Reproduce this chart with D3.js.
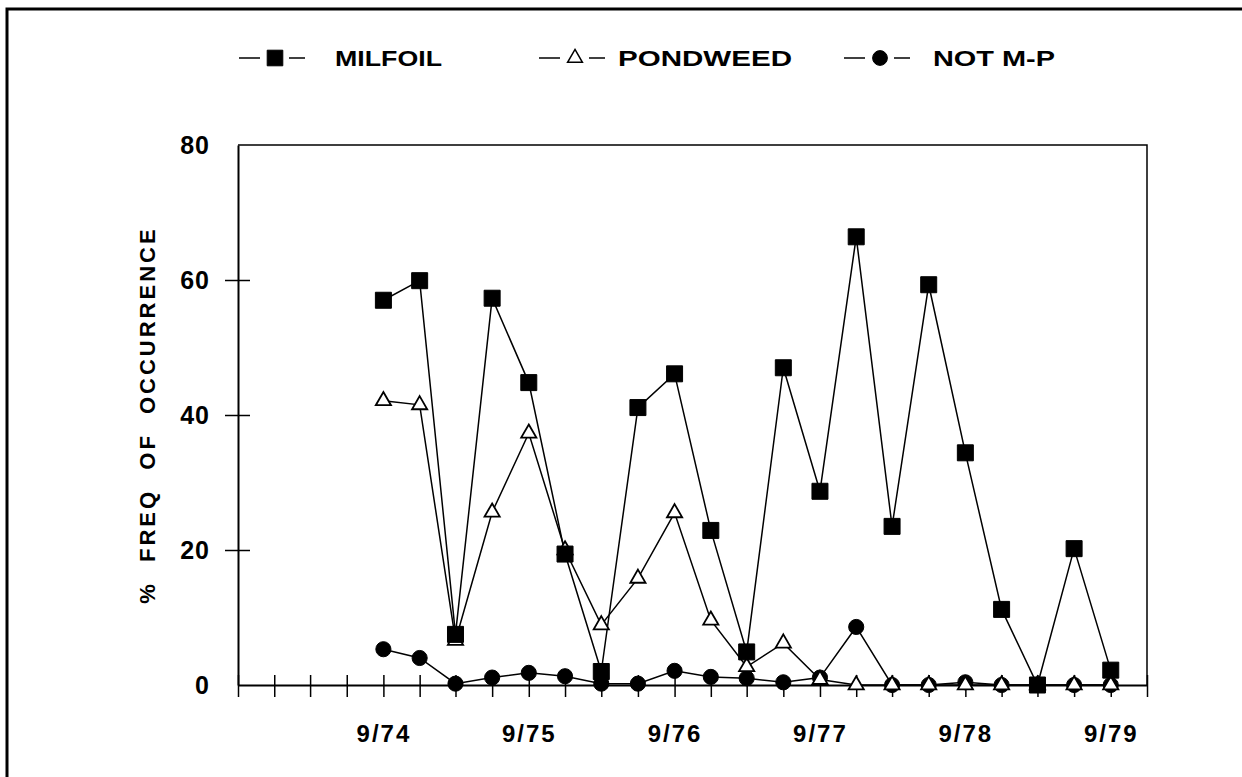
<!DOCTYPE html>
<html>
<head>
<meta charset="utf-8">
<script src="https://cdn.jsdelivr.net/npm/d3@7"></script>
<style>
  body { margin: 0; background: #fff; }
  text { font-family: Arial, "Liberation Sans", Helvetica, sans-serif; font-weight: bold; fill: #000; }
</style>
</head>
<body>
<div id="chart"></div>
<script>
// sampling dates (quarterly)
var quarters = ["1974-09","1974-12","1975-03","1975-06","1975-09","1975-12","1976-03",
                "1976-06","1976-09","1976-12","1977-03","1977-06","1977-09","1977-12",
                "1978-03","1978-06","1978-09","1978-12","1979-03","1979-06","1979-09"]

// % freq of occurrence
var milfoil  = [57.0, 59.9, 7.5, 57.3, 44.8, 19.4, 2.0, 41.1, 46.1, 22.9, 4.9,
                47.0, 28.7, 66.4, 23.5, 59.3, 34.4, 11.2, 0, 20.2, 2.2]
var pondweed = [42.1, 41.5, 6.6, 25.6, 37.3, 20.0, 8.9, 15.8, 25.5, 9.6, 2.7,
                6.2, 0.8, 0, 0, 0, 0, 0, 0, 0, 0]
var notMP    = [5.3, 4.0, 0.2, 1.1, 1.8, 1.3, 0.2, 0.2, 2.1, 1.2, 1.0,
                0.4, 1.1, 8.6, 0, 0, 0.4, 0, 0, 0, 0]

var seriesNames = ["MILFOIL", "PONDWEED", "NOT M-P"]
var yTicks = [0, 20, 40, 60, 80]
var yTitle = "% FREQ OF OCCURRENCE"

var parseMonth = d3.timeParse("%Y-%m")

var W = 1242, H = 777
var margin = {top: 145, right: 95, bottom: 92, left: 238},
    width = W - margin.left - margin.right,
    height = H - margin.top - margin.bottom

var svg = d3.select("#chart").append("svg")
    .attr("width", W)
    .attr("height", H)

// outer frame (only top and left edges show in the scan)
svg.append("path")
  .attr("d", "M7,777 L7,9 L1242,9")
  .attr("fill", "none")
  .attr("stroke", "#000")
  .attr("stroke-width", 3)

var g = svg.append("g")
  .attr("transform", "translate(" + margin.left + "," + margin.top + ")")

var x = d3.scaleTime()
  .domain([parseMonth("1973-09"), parseMonth("1979-12")])
  .range([0, width])
var y = d3.scaleLinear().domain([0, 80]).range([height, 0])

var xTickVals = d3.timeMonth.range(parseMonth("1973-09"), d3.timeMonth.offset(parseMonth("1979-12"), 1), 3)
var fmt = d3.timeFormat("%-m/%y")

// frame of plot: top + right
g.append("path")
  .attr("d", "M0,0 L" + width + ",0 L" + width + "," + height)
  .attr("fill", "none")
  .attr("stroke", "#000")
  .attr("stroke-width", 1.5)

var xAxis = g.append("g")
  .attr("transform", "translate(0," + height + ")")
  .call(d3.axisBottom(x)
    .tickValues(xTickVals)
    .tickSizeOuter(0)
    .tickSizeInner(12)
    .tickPadding(28)
    .tickFormat(function(d) {
      return (d.getMonth() == 8 && d.getFullYear() >= 1974) ? fmt(d) : ""
    }))
xAxis.selectAll(".tick line").attr("y1", -10).attr("stroke-width", 1.5)
xAxis.select(".domain").attr("stroke-width", 2)
xAxis.selectAll("text")
  .style("font-size", "24px")
  .style("letter-spacing", "2px")
  .attr("fill", "#000")

var yAxis = g.append("g")
  .call(d3.axisLeft(y)
    .tickValues(yTicks)
    .tickSizeOuter(0)
    .tickSizeInner(12)
    .tickPadding(16))
yAxis.selectAll(".tick line")
  .attr("x2", function(d) { return (d == 0 || d == 80) ? 0 : 12 })
  .attr("x1", function(d) { return (d == 0 || d == 80) ? 0 : -13 })
  .attr("stroke-width", 1.5)
yAxis.select(".domain").attr("stroke-width", 2)
yAxis.selectAll("text")
  .style("font-size", "25px")
  .style("letter-spacing", "1px")
  .attr("fill", "#000")

g.append("text")
  .attr("transform", "rotate(-90)")
  .attr("x", -height / 2)
  .attr("y", -83)
  .style("letter-spacing", "3px")
  .style("word-spacing", "10px")
  .style("text-anchor", "middle")
  .style("font-size", "22px")
  .text(yTitle)

// build series
var dates = quarters.map(parseMonth)
var allSeries = [milfoil, pondweed, notMP].map(function(vals, i) {
  return {
    name: seriesNames[i],
    points: vals.map(function(v, j) { return {date: dates[j], value: v} })
  }
})
var symbolTypes = [d3.symbolSquare, d3.symbolTriangle, d3.symbolCircle]
var symbolSizes = [256, 100, 180]
var symbolFill = ["#000", "#fff", "#000"]

var line = d3.line()
  .x(function(d) { return x(d.date) })
  .y(function(d) { return y(d.value) })

g.selectAll(".series-line")
  .data(allSeries)
  .enter().append("path")
  .attr("class", "series-line")
  .attr("d", function(d) { return line(d.points) })
  .attr("fill", "none")
  .attr("stroke", "#000")
  .attr("stroke-width", 1.5)

// markers: circles first, squares on top
;[2, 1, 0].forEach(function(i) {
  g.selectAll(".m" + i)
    .data(allSeries[i].points)
    .enter().append("path")
    .attr("class", "m" + i)
    .attr("transform", function(d) { return "translate(" + x(d.date) + "," + y(d.value) + ")" })
    .attr("d", d3.symbol().type(symbolTypes[i]).size(symbolSizes[i]))
    .attr("fill", symbolFill[i])
    .attr("stroke", "#000")
    .attr("stroke-width", i == 1 ? 1.8 : 1)
})

// legend
var legendSym = [275, 575, 880]
var legendText = [335, 618, 933]
var legendLen = [107, 174, 122]
var legendY = 58
var leg = svg.append("g")
seriesNames.forEach(function(name, i) {
  var cx = legendSym[i]
  leg.append("line")
    .attr("x1", cx - 36).attr("x2", cx - 15)
    .attr("y1", legendY).attr("y2", legendY)
    .attr("stroke", "#000").attr("stroke-width", 1.5)
  leg.append("line")
    .attr("x1", cx + 14).attr("x2", cx + 30)
    .attr("y1", legendY).attr("y2", legendY)
    .attr("stroke", "#000").attr("stroke-width", 1.5)
  leg.append("path")
    .attr("transform", "translate(" + cx + "," + legendY + ")")
    .attr("d", d3.symbol().type(symbolTypes[i]).size(symbolSizes[i] * 0.95))
    .attr("fill", symbolFill[i])
    .attr("stroke", "#000")
    .attr("stroke-width", i == 1 ? 1.5 : 1)
  leg.append("text")
    .attr("x", legendText[i])
    .attr("y", legendY + 8)
    .attr("textLength", legendLen[i])
    .attr("lengthAdjust", "spacingAndGlyphs")
    .style("font-size", "22px")
    .text(name)
})
</script>
</body>
</html>
